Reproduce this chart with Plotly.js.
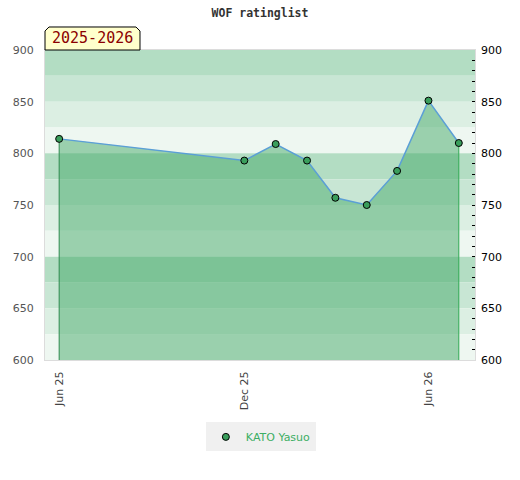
<!DOCTYPE html>
<html>
<head>
<meta charset="utf-8">
<script src="https://cdn.plot.ly/plotly-3.0.1.min.js"></script>
<style>html,body{margin:0;padding:0;background:#fff;}#chart{width:520px;height:480px;}</style>
</head>
<body>
<div id="chart"></div>
<script>
var dates = ['2025-06-01','2025-12-01','2026-01-01','2026-02-01','2026-03-01','2026-04-01','2026-05-01','2026-06-01','2026-07-01'];
var ratings = [814, 793, 809, 793, 757, 750, 783, 851, 810];
var playerName = 'KATO Yasuo';
var seasonLabel = '2025-2026';
var tickDates = ['2025-06-01','2025-12-01','2026-06-01'];
var tickLabels = ['Jun 25','Dec 25','Jun 26'];

var yMin = 600, yMax = 900;
var n = dates.length;

var bandColors = ['#b3ddc3','#c8e6d4','#dcefe3','#eef7f1'];
var shapes = [];
var k = 0;
for (var bandTop = yMax; bandTop > yMin; bandTop -= 25, k++) {
  shapes.push({type:'rect', xref:'paper', yref:'y', x0:0, x1:1, y0:bandTop-25, y1:bandTop,
    fillcolor:bandColors[k % 4], line:{width:0}, layer:'below'});
}
// season label box (chamfered)
shapes.push({type:'path', xref:'paper', yref:'paper',
  path:'M 0 1 L 0 1.0613 L 0.0093 1.0742 L 0.2116 1.0742 L 0.2209 1.0613 L 0.2209 1 Z',
  fillcolor:'#ffffcc', line:{color:'#000', width:1}, layer:'above'});

var traces = [
  {x:dates, y:ratings, type:'scatter', mode:'lines', fill:'tozeroy',
   fillcolor:'rgba(69,170,105,0.5)', line:{width:0}, showlegend:false, hoverinfo:'skip'},
  {x:[dates[0], dates[0]], y:[ratings[0], yMin], type:'scatter', mode:'lines',
   line:{color:'#2e8b50', width:1}, showlegend:false, hoverinfo:'skip'},
  {x:[dates[n-1], dates[n-1]], y:[ratings[n-1], yMin], type:'scatter', mode:'lines',
   line:{color:'#33aa55', width:1}, showlegend:false, hoverinfo:'skip'},
  {x:dates, y:ratings, type:'scatter', mode:'lines',
   line:{color:'#5b9fd6', width:1.5}, showlegend:false},
  {x:dates, y:ratings, type:'scatter', mode:'markers', name:playerName,
   marker:{color:'#3a9e5c', size:7, line:{color:'#000', width:1}}},
  {x:dates, y:ratings, yaxis:'y2', type:'scatter', mode:'markers',
   marker:{opacity:0}, showlegend:false, hoverinfo:'skip'}
];

var layout = {
  width:520, height:480,
  margin:{l:45, r:45, t:50, b:120},
  paper_bgcolor:'#fff', plot_bgcolor:'#fff',
  font:{family:'DejaVu Sans', size:11, color:'#444'},
  title:{text:'WOF ratinglist', x:0.5, xanchor:'center', y:0.973, yanchor:'middle',
    font:{family:'DejaVu Sans Mono', size:11.5, color:'#333', weight:'bold'}},
  xaxis:{type:'date', range:['2025-05-18','2026-07-17'], tickvals:tickDates, ticktext:tickLabels,
    tickangle:-90, showgrid:false, zeroline:false, showline:true, mirror:true, linecolor:'#dcdcdc',
    linewidth:1, ticks:'', ticklabelstandoff:6, tickfont:{size:11, color:'#444'}},
  yaxis:{range:[yMin, yMax], dtick:50, showgrid:false, zeroline:false, showline:true, mirror:true,
    linecolor:'#dcdcdc', ticks:'', ticklabelstandoff:8, tickfont:{size:11, color:'#555'}},
  yaxis2:{range:[yMin, yMax], dtick:50, overlaying:'y', side:'right', showgrid:false, zeroline:false,
    showline:false, ticks:'inside', ticklen:3, tickcolor:'#000', tickwidth:1, ticklabelstandoff:5,
    minor:{dtick:10, ticks:'inside', ticklen:3, tickcolor:'#000', tickwidth:1, showgrid:false},
    tickfont:{size:11, color:'#000'}},
  shapes:shapes,
  annotations:[{xref:'paper', yref:'paper', x:0.1105, y:1.0371, xanchor:'center', yanchor:'middle',
    text:seasonLabel, showarrow:false, font:{family:'DejaVu Sans Mono', size:15, color:'#8b0000'}}],
  legend:{orientation:'h', x:0.502, xanchor:'center', y:-0.248, yanchor:'middle', itemwidth:30,
    bgcolor:'#f0f0f0', font:{size:11, color:'#3cae63'}},
  showlegend:true
};

Plotly.newPlot('chart', traces, layout, {staticPlot:true, displayModeBar:false});
</script>
</body>
</html>
